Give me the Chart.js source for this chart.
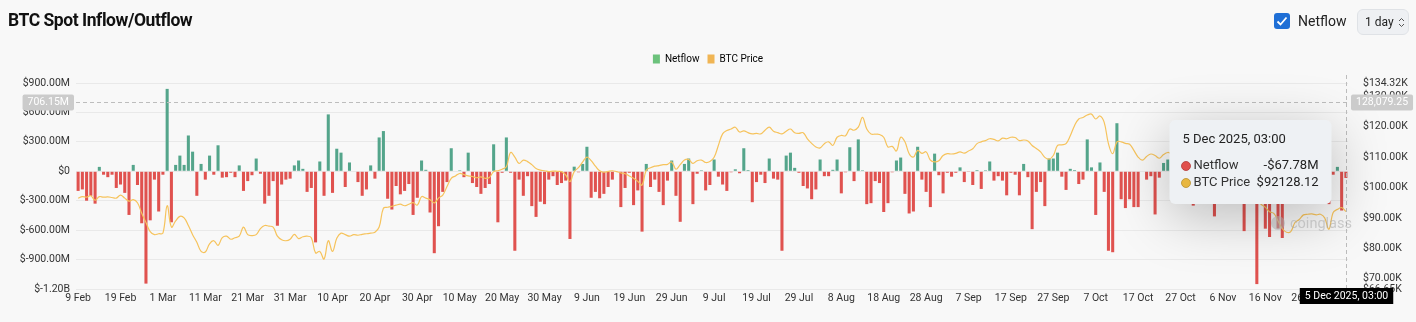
<!DOCTYPE html>
<html>
<head>
<meta charset="utf-8">
<script src="https://cdn.jsdelivr.net/npm/chart.js@4.4.1/dist/chart.umd.min.js"></script>
<style>
  html, body { margin: 0; padding: 0; background: #f8f8f8; width: 1416px; height: 322px; overflow: hidden; font-family: Roboto, "Noto Sans", sans-serif; }
  #chart { position: absolute; left: 0; top: 0; }
  #title { position: absolute; left: 8px; top: 10px; font-size: 17.5px; font-weight: 700; color: #111; letter-spacing: -0.45px; }
  #chk { position: absolute; left: 1274px; top: 13px; width: 16px; height: 16px; border-radius: 3px; background: #1f6fd6; }
  #chkLabel { position: absolute; left: 1298px; top: 13px; font-size: 14px; color: #222; }
  #sel { position: absolute; left: 1357px; top: 9px; width: 52px; height: 26px; border: 1px solid #dfe2e6; border-radius: 6px; background: #eef0f3; box-sizing: border-box; font-size: 12px; color: #222; }
  #sel span { position: absolute; left: 7px; top: 5px; }
  #sel svg { position: absolute; left: 40px; top: 7px; }
</style>
</head>
<body>
<canvas id="chart" width="1416" height="322"></canvas>
<div id="title">BTC Spot Inflow/Outflow</div>
<div id="chk"><svg width="16" height="16" viewBox="0 0 16 16"><path d="M3.5 8.5 L6.5 11.5 L12.5 4.5" fill="none" stroke="#fff" stroke-width="1.8"/></svg></div>
<div id="chkLabel">Netflow</div>
<div id="sel"><span>1 day</span><svg width="7" height="11" viewBox="0 0 7 11"><path d="M1 4 L3.5 1.5 L6 4 M1 7 L3.5 9.5 L6 7" fill="none" stroke="#555" stroke-width="1"/></svg></div>
<script>
// first day of the series, one bar per day
const startDay = "2025-02-09";
const monthNames = ["Jan","Feb","Mar","Apr","May","Jun","Jul","Aug","Sep","Oct","Nov","Dec"];

// daily spot netflow, millions of USD
const netflow = [
  -200,-185,-300,-250,-330,45,-35,-60,-35,-170,
  -135,-220,-445,65,-140,-530,-1145,-500,-85,-410,
  -35,840,-520,65,160,65,365,200,-250,75,
  -85,160,-35,265,-65,-60,-15,-60,60,-200,
  -100,-40,130,-25,-330,-250,-100,-555,-135,-85,
  -75,60,110,25,-210,-170,-725,100,-250,580,
  -220,230,190,-160,90,-5,-110,-250,-185,60,
  -75,345,410,-280,-390,-150,-235,-200,-130,-445,
  -270,110,15,-420,-835,-560,-210,-110,235,-5,
  10,-60,190,-120,-160,-230,-170,-130,275,-520,
  -15,345,-15,-810,-85,-250,-50,-355,-465,-310,
  -335,-85,-50,-140,-120,-95,-690,47,-10,75,
  250,-270,-210,-275,-230,-160,-85,-5,-365,-170,
  -15,-345,-195,-615,75,-160,-85,-210,-345,-95,
  110,-250,-515,75,130,-335,-25,10,-195,-140,
  120,-55,-135,-200,-10,20,-20,235,12,-315,
  -110,-35,-120,130,-75,-85,-810,160,190,35,
  -15,-150,-175,-285,-185,120,-50,-50,15,120,
  -225,-10,245,-100,325,10,-335,-325,-100,-120,
  -415,-325,-10,110,140,-230,-430,-410,250,-85,
  -210,-365,180,-40,-225,-15,-55,-15,40,-110,
  -3,-140,12,-180,10,100,-95,-50,-95,-245,
  -15,-35,-245,75,-60,-590,-210,-110,-355,130,
  130,190,-55,-190,25,12,-130,-85,325,40,
  -445,90,-210,-810,-825,490,-285,-375,-285,-365,
  -365,-5,-85,-50,-440,-65,85,120,-120,60,
  -180,-90,40,-350,-150,-60,-220,-130,-460,-100,
  -45,-190,50,-140,-260,-610,-80,-300,-1150,-210,
  -585,-670,-250,-583,-680,-120,-200,35,-160,-90,
  -230,60,-110,-40,-180,-335,-35,45,-400,-67.78
];

// BTC daily price, thousands of USD
const btcPrice = [
  96.5,97.0,96.8,97.3,95.8,97.0,96.8,96.9,96.7,96.5,
  97.5,96.5,95.5,96.0,95.0,91.5,88.5,85.5,84.5,84.8,
  85.0,94.0,87.0,89.0,90.5,90.0,87.5,84.5,82.0,79.0,
  78.8,81.5,82.5,81.0,83.5,84.0,83.0,83.5,84.0,87.0,
  84.5,84.2,84.5,86.5,87.5,87.3,87.0,84.0,82.8,82.5,
  83.0,84.6,83.2,83.8,84.0,83.5,78.5,79.0,76.5,82.5,
  79.0,83.3,85.0,84.5,84.0,84.5,84.3,84.6,84.8,85.0,
  85.3,87.0,93.2,93.5,93.8,94.2,94.5,94.0,94.5,95.0,
  94.2,97.0,96.5,96.0,94.9,96.5,97.5,100.3,103.0,103.8,
  104.6,104.2,103.8,103.6,103.2,103.5,103.0,103.3,105.2,105.5,
  106.0,106.8,111.5,110.0,107.9,109.0,108.5,107.5,106.2,105.7,
  105.5,105.2,105.4,105.3,105.2,104.1,101.9,105.2,106.5,108.4,
  110.0,108.8,107.0,105.5,105.0,105.3,105.5,105.2,104.8,104.5,
  103.8,103.0,102.0,100.8,105.7,106.5,107.0,107.2,107.5,107.6,
  108.4,106.0,107.5,109.0,109.2,107.9,108.8,109.0,108.2,108.5,
  109.9,113.8,117.6,118.7,119.2,119.8,118.2,118.6,118.0,117.6,
  117.8,117.6,118.8,119.8,118.5,118.0,117.6,118.5,119.2,118.0,
  117.8,118.0,116.0,114.5,113.3,113.0,114.4,115.0,113.8,116.5,
  117.1,117.0,119.2,118.8,119.8,123.0,119.2,117.6,117.5,117.4,
  116.5,113.3,113.5,112.0,116.5,115.0,111.1,110.0,112.2,111.2,
  111.7,109.0,108.4,108.8,110.5,111.1,111.0,111.2,111.7,111.3,
  112.0,112.7,114.4,115.0,115.4,116.0,115.8,115.3,116.2,116.0,
  116.5,116.4,115.4,115.6,115.3,113.8,112.8,111.7,109.9,109.3,
  110.5,113.8,114.0,114.4,117.0,120.3,122.5,123.0,123.8,124.1,
  122.5,123.5,121.4,114.4,111.1,115.0,115.0,114.5,114.2,112.2,
  110.0,109.0,110.2,111.0,110.5,109.6,110.8,111.5,111.3,114.5,
  114.0,112.8,110.0,108.5,109.5,110.0,107.0,104.5,101.5,103.5,
  102.5,103.0,102.0,104.5,106.0,103.0,101.5,99.5,96.0,94.5,
  93.5,92.0,91.5,89.0,86.5,85.3,85.5,88.5,89.5,91.0,
  91.2,91.3,91.0,91.2,90.0,86.3,91.8,92.8,93.4,92.12812
];

// axis ticks
const netflowTicks = [-1200,-1050,-900,-750,-600,-450,-300,-150,0,150,300,450,600,750,900];
const priceTicks = [66.65,70,80,90,100,110,120,130,134.32];

// hovered point shown by the crosshair
const hoverTitle = "5 Dec 2025, 03:00";
const hoverNetflowLabel = "706.15M";
const hoverNetflowValue = 706.15;
const hoverPriceLabel = "128,079.25";

const GREEN = "#54a58b";
const RED = "#e0524f";

const dates = [];
{
  const d0 = new Date(startDay + "T00:00:00Z");
  for (let i = 0; i < netflow.length; i++) {
    const d = new Date(d0.getTime() + i * 86400000);
    dates.push(d.getUTCDate() + " " + monthNames[d.getUTCMonth()]);
  }
}

function fmtFlow(v) {
  if (v === 0) return "$0";
  if (Math.abs(v) >= 1000) return "$" + (v / 1000).toFixed(2) + "B";
  return "$" + v.toFixed(2) + "M";
}

const overlay = {
  id: "overlay",
  afterDraw(chart) {
    const ctx = chart.ctx, a = chart.chartArea;
    const xs = chart.scales.x, ys = chart.scales.y;
    const last = netflow.length - 1;
    const cx = Math.round(xs.getPixelForValue(last)) + 0.5;
    const cy = Math.round(ys.getPixelForValue(hoverNetflowValue)) + 0.5;

    ctx.save();
    ctx.setLineDash([4, 3]);
    ctx.strokeStyle = "#bdbdbd";
    ctx.lineWidth = 1;
    ctx.beginPath();
    ctx.moveTo(a.left, cy); ctx.lineTo(a.right, cy);
    ctx.moveTo(cx, a.top - 8); ctx.lineTo(cx, a.bottom);
    ctx.stroke();
    ctx.restore();

    // tooltip box
    const w = 162, h = 84;
    const tx = cx - 15 - w, ty = a.top + 37;
    ctx.save();
    ctx.shadowColor = "rgba(0,0,0,0.25)";
    ctx.shadowBlur = 55;
    ctx.shadowOffsetY = 12;
    ctx.fillStyle = "#eef1f4";
    ctx.beginPath();
    ctx.roundRect(tx, ty, w, h, 6);
    ctx.fill();
    ctx.restore();

    // watermark
    ctx.save();
    ctx.globalAlpha = 0.55;
    ctx.fillStyle = "#a8a8a8";
    ctx.beginPath();
    ctx.arc(a.right - 70, a.top + 140, 7, 0, Math.PI * 2);
    ctx.fill();
    ctx.font = "14.5px Roboto, sans-serif";
    ctx.textBaseline = "middle";
    ctx.fillText("coinglass", a.right - 58, a.top + 141);
    ctx.restore();

    ctx.save();
    ctx.textBaseline = "middle";
    ctx.font = "13px Roboto, sans-serif";
    ctx.fillStyle = "#222";
    ctx.fillText(hoverTitle, tx + 13, ty + 20);
    const rows = [
      ["Netflow", "-$" + Math.abs(netflow[last]).toFixed(2) + "M", "#e0504c", "#b23a37", ty + 46],
      ["BTC Price", "$" + (btcPrice[last] * 1000).toFixed(2), "#e8b740", "#b98f2c", ty + 63]
    ];
    for (const r of rows) {
      ctx.beginPath();
      ctx.arc(tx + 16.5, r[4], 4.5, 0, Math.PI * 2);
      ctx.fillStyle = r[2]; ctx.fill();
      ctx.strokeStyle = r[3]; ctx.lineWidth = 0.8; ctx.stroke();
      ctx.fillStyle = "#333";
      ctx.textAlign = "left";
      ctx.fillText(r[0], tx + 24, r[4]);
      ctx.textAlign = "right";
      ctx.fillStyle = "#222";
      ctx.fillText(r[1], tx + w - 13, r[4]);
    }
    ctx.restore();

    // crosshair axis labels
    ctx.save();
    ctx.font = "10.5px Roboto, sans-serif";
    ctx.textBaseline = "middle";
    ctx.textAlign = "center";
    const lw = ctx.measureText(hoverNetflowLabel).width + 10;
    ctx.fillStyle = "#cbcbcb";
    ctx.beginPath(); ctx.roundRect(a.left - 2 - lw, cy - 8, lw, 16, 2); ctx.fill();
    const rw = ctx.measureText(hoverPriceLabel).width + 10;
    ctx.beginPath(); ctx.roundRect(a.right + 3, cy - 8, rw, 16, 2); ctx.fill();
    ctx.fillStyle = "#fff";
    ctx.fillText(hoverNetflowLabel, a.left - 2 - lw / 2, cy);
    ctx.fillText(hoverPriceLabel, a.right + 3 + rw / 2, cy);
    const bw = ctx.measureText(hoverTitle).width + 10;
    ctx.fillStyle = "#000";
    ctx.fillRect(cx - bw / 2, a.bottom - 1, bw, 16);
    ctx.fillStyle = "#fff";
    ctx.fillText(hoverTitle, cx, a.bottom + 7);
    ctx.restore();
  }
};

const legendGap = {
  id: "legendGap",
  beforeInit(chart) {
    const fit = chart.legend.fit;
    chart.legend.fit = function () { fit.bind(chart.legend)(); this.height += 9; };
  }
};

const chart = new Chart(document.getElementById("chart"), {
  type: "bar",
  data: {
    labels: dates,
    datasets: [{
      type: "bar",
      label: "Netflow",
      data: netflow,
      yAxisID: "y",
      backgroundColor: netflow.map(v => v >= 0 ? GREEN : RED),
      categoryPercentage: 0.9,
      barPercentage: 0.8,
      order: 2
    }, {
      type: "line",
      label: "BTC Price",
      data: btcPrice,
      yAxisID: "y1",
      borderColor: "#f6c35c",
      borderWidth: 1.2,
      pointRadius: 0,
      tension: 0.4,
      order: 1
    }]
  },
  options: {
    responsive: false,
    animation: false,
    layout: { padding: { top: 46, bottom: 15 } },
    plugins: {
      legend: {
        labels: {
          boxWidth: 7, boxHeight: 9, padding: 8,
          font: { size: 10, family: "Roboto" }, color: "#555",
          generateLabels: () => [
            { text: "Netflow", fillStyle: "#6cc27c", strokeStyle: "#6cc27c", lineWidth: 0, datasetIndex: 0 },
            { text: "BTC Price", fillStyle: "#f0b554", strokeStyle: "#f0b554", lineWidth: 0, datasetIndex: 1 }
          ]
        }
      },
      tooltip: { enabled: false }
    },
    scales: {
      x: {
        grid: { display: false, drawTicks: false },
        border: { display: false },
        ticks: {
          autoSkip: false, maxRotation: 0, padding: 3,
          font: { size: 10.5, family: "Roboto" }, color: "#333",
          callback: (v, i) => i % 10 === 0 && i < dates.length - 5 ? dates[i] : ""
        },
        afterFit: s => { s.height = 18; }
      },
      y: {
        position: "left",
        min: -1200, max: 900,
        grid: { color: "rgba(0,0,0,0.06)", drawTicks: false },
        border: { display: false },
        afterBuildTicks: s => { s.ticks = netflowTicks.map(v => ({ value: v })); },
        ticks: {
          padding: 6, font: { size: 10.5, family: "Roboto" }, color: "#333",
          callback: v => v % 300 === 0 ? fmtFlow(v) : ""
        },
        afterFit: s => { s.width = 76; }
      },
      y1: {
        position: "right",
        min: 66.65, max: 134.32,
        grid: { display: false },
        border: { display: false },
        afterBuildTicks: s => { s.ticks = priceTicks.map(v => ({ value: v })); },
        ticks: {
          padding: 7, font: { size: 10.5, family: "Roboto" }, color: "#333",
          callback: v => "$" + v.toFixed(2) + "K"
        },
        afterFit: s => { s.width = 68; }
      }
    }
  },
  plugins: [legendGap, overlay]
});
</script>
</body>
</html>
